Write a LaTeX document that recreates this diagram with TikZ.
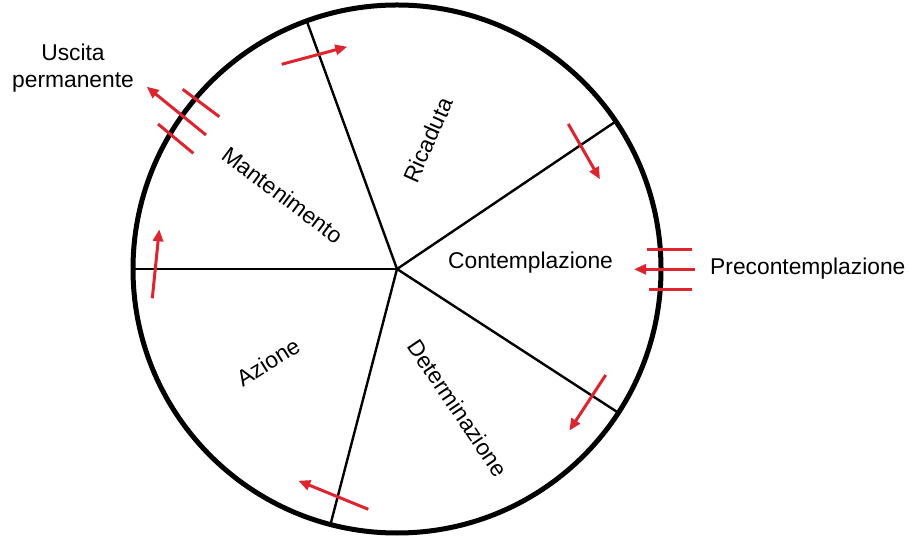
\documentclass[tikz,border=0pt]{standalone}
\usepackage{fontspec}
\setmainfont{Liberation Sans}
\usetikzlibrary{arrows.meta}
\definecolor{arrred}{RGB}{222,36,46}
\tikzset{
  spoke/.style={line width=2.4pt,black},
  rim/.style={line width=5pt,black},
  redarr/.style={line width=3pt,arrred,-{Triangle[length=12pt,width=10pt]}},
  redbar/.style={line width=3pt,arrred},
  lbl/.style={font=\fontsize{22.8}{27}\selectfont,inner sep=0pt}
}
\begin{document}
\begin{tikzpicture}[x=1pt,y=1pt]
\useasboundingbox (0,0) rectangle (909,535);
\coordinate (c) at (397,266);
% spokes
\draw[spoke] (c) -- ++(110:264pt) coordinate (s1);
\draw[spoke] (c) -- ++(34:264pt) coordinate (s2);
\draw[spoke] (c) -- ++(-33:264pt) coordinate (s3);
\draw[spoke] (c) -- ++(-104.6:264pt) coordinate (s4);
\draw[spoke] (c) -- ++(180:264pt) coordinate (s5);
\draw[rim] (c) circle (264pt);
% red arrows
\coordinate (e1) at (206,400); \coordinate (e2) at (146.7,448.3);
\draw[redarr] (e1) -- (e2);
\coordinate (b1) at (182.7,445.7); \coordinate (b2) at (219.3,418.3);
\draw[redbar] (b1) -- (b2);
\coordinate (b3) at (158,411); \coordinate (b4) at (193.3,381.7);
\draw[redbar] (b3) -- (b4);
\coordinate (r1) at (281.7,470.7); \coordinate (r2) at (347.3,488.3);
\draw[redarr] (r1) -- (r2);
\coordinate (k1) at (568.3,411); \coordinate (k2) at (600,355.7);
\draw[redarr] (k1) -- (k2);
\coordinate (p1) at (646.7,285.7); \coordinate (p2) at (691.7,285.7);
\draw[redbar] (p1) -- (p2);
\coordinate (p3) at (695,265.7); \coordinate (p4) at (634,265.7);
\draw[redarr] (p3) -- (p4);
\coordinate (p5) at (649.3,245.7); \coordinate (p6) at (691.7,245.7);
\draw[redbar] (p5) -- (p6);
\coordinate (d1) at (605.7,160); \coordinate (d2) at (569.3,104.3);
\draw[redarr] (d1) -- (d2);
\coordinate (a1) at (368.3,25.7); \coordinate (a2) at (298.3,54.3);
\draw[redarr] (a1) -- (a2);
\coordinate (m1) at (152.3,236.7); \coordinate (m2) at (159.3,305.7);
\draw[redarr] (m1) -- (m2);
% labels
\node[lbl,align=center] (uscita) at (73,467) {Uscita\\permanente};
\node[lbl,anchor=west] (pre) at (710,266) {Precontemplazione};
\node[lbl] (cont) at (530.5,272) {Contemplazione};
\node[lbl,rotate=-37] (mant) at (283,340) {Mantenimento};
\node[lbl,rotate=66] (rica) at (428,395) {Ricaduta};
\node[lbl,rotate=32] (azio) at (268,173) {Azione};
\node[lbl,rotate=-56] (dete) at (458,127) {Determinazione};
\end{tikzpicture}
\end{document}
